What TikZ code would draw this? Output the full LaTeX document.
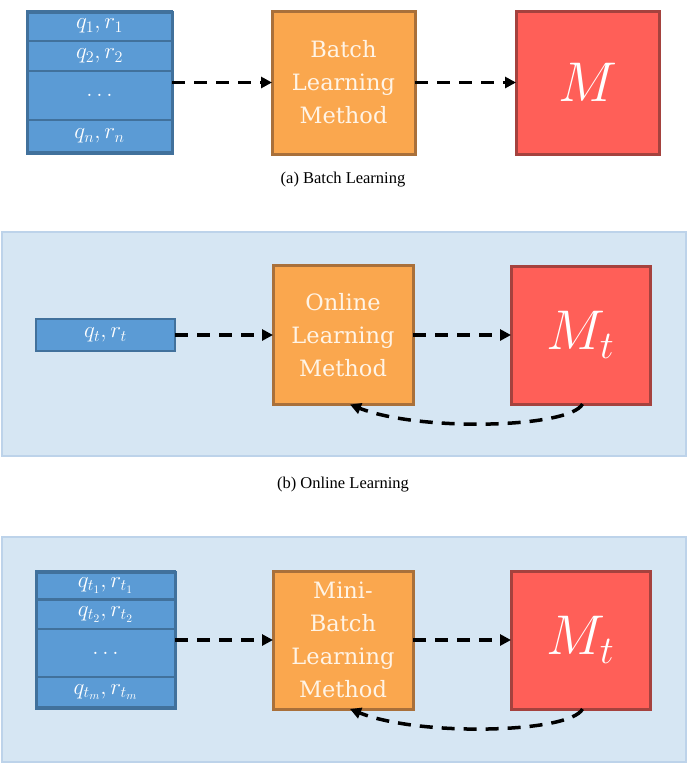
\RequirePackage{fix-cm}
\documentclass[tikz,border=0pt]{standalone}
\usepackage{fontspec}
\usetikzlibrary{arrows.meta}
\newfontfamily\boxfont{DejaVu Serif}
\newfontfamily\capfont{Liberation Serif}
\definecolor{datafill}{HTML}{5B9BD5}
\definecolor{dataline}{HTML}{41719C}
\definecolor{methfill}{HTML}{FAA74E}
\definecolor{methline}{HTML}{A9703A}
\definecolor{modfill}{HTML}{FF5F58}
\definecolor{modline}{HTML}{A5423E}
\definecolor{panelfill}{HTML}{D6E6F3}
\definecolor{panelline}{HTML}{BDD3EA}
\definecolor{methtext}{HTML}{FFF4E6}
\begin{document}
\begin{tikzpicture}[x=1pt,y=-1pt,
  datarow/.style={draw=dataline,fill=datafill,line width=2.5pt,minimum width=#1,inner sep=0pt,outer sep=0pt,
    text=white,font=\fontsize{23}{24}\selectfont},
  datarow/.default=139pt,
  stackbox/.style={draw=dataline,line width=3pt,inner sep=0pt,outer sep=0pt},
  methbox/.style={draw=methline,fill=methfill,line width=3pt,minimum width=140pt,minimum height=139pt,
    inner sep=0pt,outer sep=0pt,align=center,text=methtext,font=\boxfont\fontsize{22.5}{33}\selectfont},
  modbox/.style={draw=modline,fill=modfill,line width=3pt,minimum width=139pt,minimum height=139pt,
    inner sep=0pt,outer sep=0pt,text=white,font=\fontsize{56}{60}\selectfont},
  panel/.style={draw=panelline,fill=panelfill,line width=2pt},
  flow/.style={line width=3.5pt,dash pattern=on 13pt off 9pt,-{Triangle[length=11pt,width=11pt]}},
  caption/.style={font=\capfont\fontsize{16.5}{18}\selectfont}
]
\useasboundingbox (0,0) rectangle (693,772);

% ---- (a) batch learning ----
\node[datarow=145pt,minimum height=30pt] (a1) at (99.5,26) {$q_1, r_1$};
\node[datarow=145pt,minimum height=30pt] (a2) at (99.5,56) {$q_2, r_2$};
\node[datarow=145pt,minimum height=49pt] (a3) at (99.5,95.5) {$\dots$};
\node[datarow=145pt,minimum height=32pt] (a4) at (99.5,136) {$q_n, r_n$};
\node[stackbox,minimum width=145pt,minimum height=141pt] (astack) at (99.5,82.5) {};
\node[methbox,minimum width=143pt,minimum height=143pt] (ameth) at (343.5,82.5) {Batch\\Learning\\Method};
\node[modbox,minimum width=143pt,minimum height=143pt] (amod) at (587.5,82.5) {$M$};
\draw[flow] (astack.east) -- (ameth.west);
\draw[flow] (ameth.east) -- (amod.west);
\node[caption] (acap) at (343,180) {(a) Batch Learning};

% ---- (b) online learning ----
\draw[panel] (2,232) rectangle (686,456);
\node[datarow,minimum height=32pt] (bq) at (105.5,335) {$q_t, r_t$};
\node[methbox] (bmeth) at (343,335) {Online\\Learning\\Method};
\node[modbox,minimum height=138pt] (bmod) at (580.5,335) {$M_t$};
\draw[flow] (bq.east) -- (bmeth.west);
\draw[flow] (bmeth.east) -- (bmod.west);
\draw[flow] ([xshift=2pt]bmod.south) .. controls (570,428) and (420,432) .. ([xshift=7pt]bmeth.south);
\node[caption] (bcap) at (343,485) {(b) Online Learning};

% ---- (c) mini-batch learning ----
\draw[panel] (2,537) rectangle (686,762);
\node[datarow,minimum height=29pt] (c1) at (105.5,585.5) {$q_{t_1}, r_{t_1}$};
\node[datarow,minimum height=30pt] (c2) at (105.5,614.5) {$q_{t_2}, r_{t_2}$};
\node[datarow,minimum height=48pt] (c3) at (105.5,653) {$\dots$};
\node[datarow,minimum height=30pt] (c4) at (105.5,692) {$q_{t_m}, r_{t_m}$};
\node[stackbox,minimum width=139pt,minimum height=136pt] (cstack) at (105.5,640) {};
\node[methbox,minimum height=138pt] (cmeth) at (343,640) {Mini-\\Batch\\Learning\\Method};
\node[modbox,minimum height=138pt] (cmod) at (580.5,640) {$M_t$};
\draw[flow] (cstack.east) -- (cmeth.west);
\draw[flow] (cmeth.east) -- (cmod.west);
\draw[flow] ([xshift=2pt]cmod.south) .. controls (570,733) and (420,737) .. ([xshift=7pt]cmeth.south);
\end{tikzpicture}
\end{document}
